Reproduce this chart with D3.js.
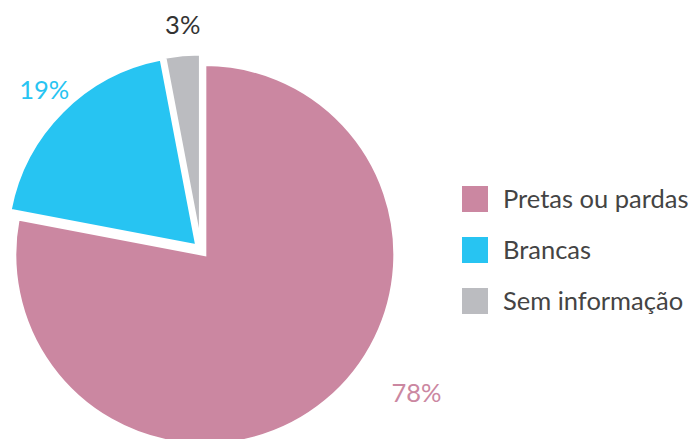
<!DOCTYPE html>
<html><head><meta charset="utf-8">
<script src="https://cdn.jsdelivr.net/npm/d3@7"></script>
<style>body{margin:0;background:#fff}svg{display:block}</style>
</head><body>
<svg id="c" width="691" height="439"></svg>
<script>
const categories = ["Pretas ou pardas", "Brancas", "Sem informação"];
const values = [78, 19, 3];
const labels = ["78%", "19%", "3%"];
const colors = ["#cb87a1", "#27c4f2", "#bbbcc0"];
const labelColors = ["#cb87a1", "#27c4f2", "#333333"];

const svg = d3.select("#c");
const cx = 201, cy = 250, R = 190, explode = 6;
const pie = d3.pie().sort(null).value(d => d)(values);
const arc = d3.arc().innerRadius(0).outerRadius(R);
const g = svg.append("g").attr("transform", `translate(${cx},${cy})`);

g.selectAll("path").data(pie).join("path")
  .attr("d", arc)
  .attr("fill", (d, i) => colors[i])
  .attr("stroke", "#fff").attr("stroke-width", 3).attr("stroke-linejoin", "miter")
  .attr("transform", d => {
    const a = (d.startAngle + d.endAngle) / 2;
    return `translate(${explode * Math.sin(a)},${-explode * Math.cos(a)})`;
  });

g.selectAll("text").data(pie).join("text")
  .attr("transform", (d, i) => {
    let a = (d.startAngle + d.endAngle) / 2, r = 226, dx = 3;
    if (d.endAngle - d.startAngle > Math.PI) { a = a - 0.29; r = 258; dx = 1; }
    return `translate(${r * Math.sin(a) + dx},${-r * Math.cos(a)})`;
  })
  .attr("text-anchor", "middle").attr("dy", "0.35em")
  .attr("font-family", "Lato, sans-serif").attr("font-size", 25.5)
  .attr("fill", (d, i) => labelColors[i])
  .text((d, i) => labels[i]);

const lg = svg.append("g").attr("transform", "translate(462,186)");
const row = lg.selectAll("g").data(categories).join("g")
  .attr("transform", (d, i) => `translate(0,${i * 51})`);
row.append("rect").attr("width", 26).attr("height", 26).attr("fill", (d, i) => colors[i]);
row.append("text").attr("x", 41).attr("y", 13).attr("dy", "0.35em")
  .attr("font-family", "Lato, sans-serif").attr("font-size", 25.5).attr("fill", "#444")
  .text(d => d);
</script>
</body></html>
